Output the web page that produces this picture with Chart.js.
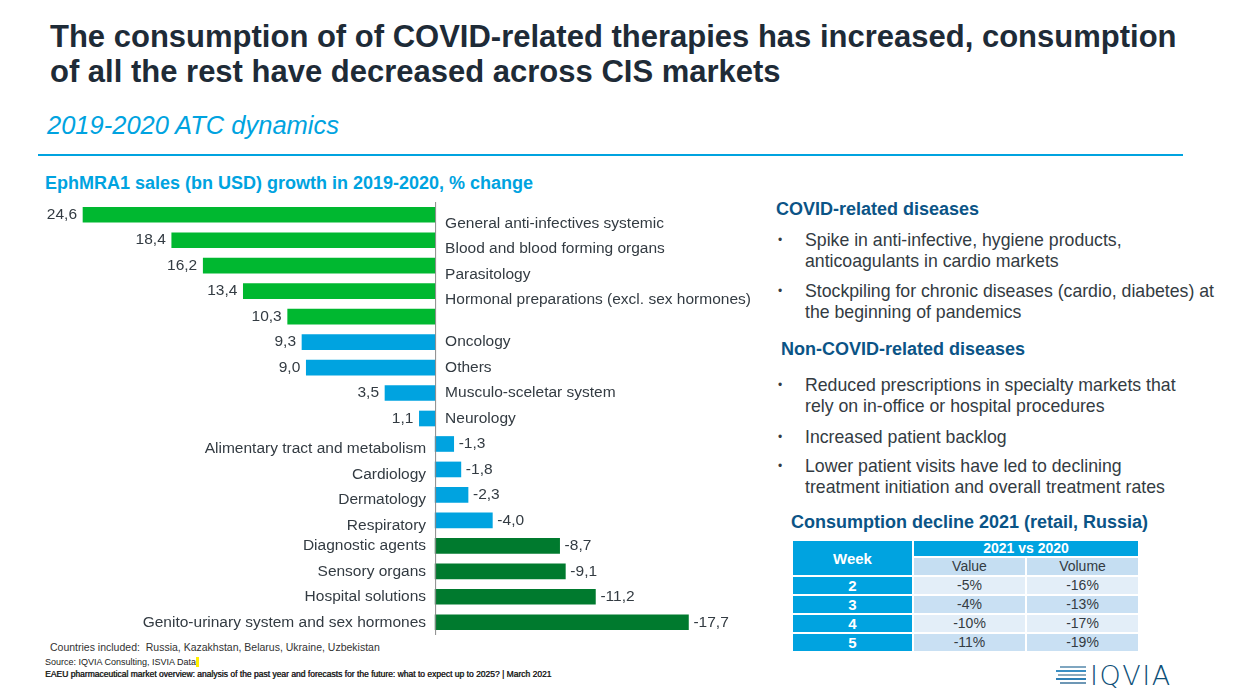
<!DOCTYPE html>
<html>
<head>
<meta charset="utf-8">
<script src="https://cdn.jsdelivr.net/npm/chart.js@4.4.1/dist/chart.umd.min.js"></script>
<style>
  body { margin: 0; width: 1234px; height: 693px; background: #fff; font-family: "Liberation Sans", Arial, sans-serif; position: relative; overflow: hidden; }
  .abs { position: absolute; white-space: nowrap; }
  #title { left: 50px; top: 19px; font-size: 31px; font-weight: bold; color: #1e2b37; line-height: 35px; }
  #subtitle { left: 47px; top: 111px; font-size: 25.5px; font-style: italic; color: #00a3e0; }
  #rule { left: 38px; top: 154px; width: 1145px; height: 2px; background: #00a3e0; }
  #chartTitle { left: 45px; top: 173px; font-size: 18px; font-weight: bold; color: #00a3e0; }
  #chartBox { left: 0; top: 202px; width: 760px; height: 433px; }
  .h { font-size: 18px; font-weight: bold; color: #0b5486; }
  .b { font-size: 17.7px; color: #333b42; line-height: 21px; }
  .dot { position: absolute; left: -27px; font-size: 12px; }
  #tbl { left: 791px; top: 539px; border-collapse: collapse; font-size: 14px; }
  #tbl td { border: 2px solid #fff; text-align: center; padding: 0; height: 17px; line-height: 17px; color: #333b42; }
  #tbl td.wk { background: #00a3e0; color: #fff; font-weight: bold; width: 119px; font-size: 15px; }
  #tbl td.hd { background: #00a3e0; color: #fff; font-weight: bold; height: 15px; line-height: 15px; }
  #tbl td.sub { background: #c5def2; width: 111px; }
  #tbl tr.odd td.v { background: #e3eef8; }
  #tbl tr.even td.v { background: #c9e0f3; }
  .foot { font-size: 10.5px; color: #333; }
  .tiny { font-size: 9px; color: #222; }
</style>
</head>
<body>
<div id="title" class="abs">The consumption of of COVID-related therapies has increased, consumption<br>of all the rest have decreased across CIS markets</div>
<div id="subtitle" class="abs">2019-2020 ATC dynamics</div>
<div id="rule" class="abs"></div>
<div id="chartTitle" class="abs">EphMRA1 sales (bn USD) growth in 2019-2020, % change</div>
<div id="chartBox" class="abs"><canvas id="atcChart"></canvas></div>

<div class="abs h" style="left:776px;top:199px;">COVID-related diseases</div>
<div class="abs b" style="left:805px;top:230px;"><span class="dot">&#8226;</span>Spike in anti-infective, hygiene products,<br>anticoagulants in cardio markets</div>
<div class="abs b" style="left:805px;top:281px;"><span class="dot">&#8226;</span>Stockpiling for chronic diseases (cardio, diabetes) at<br>the beginning of pandemics</div>
<div class="abs h" style="left:781px;top:339px;">Non-COVID-related diseases</div>
<div class="abs b" style="left:805px;top:375px;"><span class="dot">&#8226;</span>Reduced prescriptions in specialty markets that<br>rely on in-office or hospital procedures</div>
<div class="abs b" style="left:805px;top:427px;"><span class="dot">&#8226;</span>Increased patient backlog</div>
<div class="abs b" style="left:805px;top:456px;"><span class="dot">&#8226;</span>Lower patient visits have led to declining<br>treatment initiation and overall treatment rates</div>

<div class="abs h" style="left:791px;top:512px;">Consumption decline 2021 (retail, Russia)</div>
<table id="tbl" class="abs"></table>

<div class="abs foot" style="left:50px;top:641px;">Countries included:&nbsp; Russia, Kazakhstan, Belarus, Ukraine, Uzbekistan</div>
<div class="abs tiny" style="left:45px;top:657px;">Source: IQVIA Consulting, ISVIA Data<span style="background:#ffee00;">&nbsp;</span></div>
<div class="abs tiny" style="left:45px;top:669px;font-size:8.5px;color:#222;text-shadow:0.4px 0 0 #222;">EAEU pharmaceutical market overview: analysis of the past year and forecasts for the future: what to expect up to 2025? | March 2021</div>

<div class="abs" style="left:1056px;top:665px;width:32px;height:22px;">
  <div style="position:absolute;left:4px;top:1px;width:26px;height:2px;background:#7fa6c0;"></div>
  <div style="position:absolute;left:0;top:5px;width:30px;height:2px;background:#3a8fc4;"></div>
  <div style="position:absolute;left:2px;top:9px;width:28px;height:2px;background:#8aa9bd;"></div>
  <div style="position:absolute;left:0;top:13px;width:30px;height:2px;background:#2d7fb5;"></div>
  <div style="position:absolute;left:4px;top:17px;width:26px;height:2px;background:#6d97b5;"></div>
</div>
<div class="abs" style="left:1090px;top:660px;font-size:27px;color:#0d4f78;letter-spacing:1.5px;font-family:'DejaVu Sans',sans-serif;font-weight:200;">IQVIA</div>

<script>
// Chart data
const categories = [
  'General anti-infectives systemic',
  'Blood and blood forming organs',
  'Parasitology',
  'Hormonal preparations (excl. sex hormones)',
  '',
  'Oncology',
  'Others',
  'Musculo-sceletar system',
  'Neurology',
  'Alimentary tract and metabolism',
  'Cardiology',
  'Dermatology',
  'Respiratory',
  'Diagnostic agents',
  'Sensory organs',
  'Hospital solutions',
  'Genito-urinary system and sex hormones'
];
const growth = [24.6, 18.4, 16.2, 13.4, 10.3, 9.3, 9.0, 3.5, 1.1, -1.3, -1.8, -2.3, -4.0, -8.7, -9.1, -11.2, -17.7];
const groups = ['up', 'up', 'up', 'up', 'up', 'mid', 'mid', 'mid', 'mid', 'mid', 'mid', 'mid', 'mid', 'down', 'down', 'down', 'down'];

// Table data
const weeks = ['2', '3', '4', '5'];
const valueChange = ['-5%', '-4%', '-10%', '-11%'];
const volumeChange = ['-16%', '-13%', '-17%', '-19%'];

const groupColors = { up: '#00b830', mid: '#00a3e0', down: '#007a2e' };
const textColor = '#333b42';

// Build table
const tbl = document.getElementById('tbl');
let html = '<tr><td class="wk" rowspan="2">Week</td><td class="hd" colspan="2">2021 vs 2020</td></tr>';
html += '<tr><td class="sub">Value</td><td class="sub">Volume</td></tr>';
weeks.forEach((w, i) => {
    html += `<tr class="${i % 2 ? 'even' : 'odd'}"><td class="wk">${w}</td><td class="v">${valueChange[i]}</td><td class="v">${volumeChange[i]}</td></tr>`;
});
tbl.innerHTML = html;

// Labels next to bars and zero line
const barLabels = {
    id: 'barLabels',
    afterDatasetsDraw(chart) {
        const ctx = chart.ctx;
        const meta = chart.getDatasetMeta(0);
        const zeroX = chart.scales.x.getPixelForValue(0);
        ctx.save();
        ctx.strokeStyle = '#8a8a8a';
        ctx.lineWidth = 1;
        ctx.beginPath();
        ctx.moveTo(zeroX + 0.5, chart.chartArea.top);
        ctx.lineTo(zeroX + 0.5, chart.chartArea.bottom);
        ctx.stroke();

        ctx.font = '15.5px "Liberation Sans", Arial, sans-serif';
        ctx.fillStyle = textColor;
        ctx.textBaseline = 'middle';
        meta.data.forEach((bar, i) => {
            const v = growth[i];
            const txt = v.toFixed(1).replace('.', ',');
            let dy = 0;
            if (i < 4) dy = 9;
            else if (i >= 9 && i <= 12) dy = 5;
            if (v >= 0) {
                ctx.textAlign = 'right';
                ctx.fillText(txt, bar.x - 6, bar.y);
                ctx.textAlign = 'left';
                ctx.fillText(categories[i], zeroX + 10, bar.y + dy);
            } else {
                ctx.textAlign = 'left';
                ctx.fillText(txt, bar.x + 5, bar.y);
                ctx.textAlign = 'right';
                ctx.fillText(categories[i], zeroX - 9, bar.y + dy);
            }
        });
        ctx.restore();
    }
};

new Chart(document.getElementById('atcChart'), {
    type: 'bar',
    data: {
        labels: categories,
        datasets: [{
            data: growth,
            backgroundColor: groups.map(g => groupColors[g]),
            barThickness: 15,
            borderWidth: 0
        }]
    },
    options: {
        indexAxis: 'y',
        responsive: true,
        maintainAspectRatio: false,
        animation: false,
        layout: { padding: 0 },
        scales: {
            x: { display: false, reverse: true, min: -22.7, max: 30.4 },
            y: { display: false }
        },
        plugins: {
            legend: { display: false },
            tooltip: { enabled: false }
        }
    },
    plugins: [barLabels]
});
</script>
</body>
</html>
